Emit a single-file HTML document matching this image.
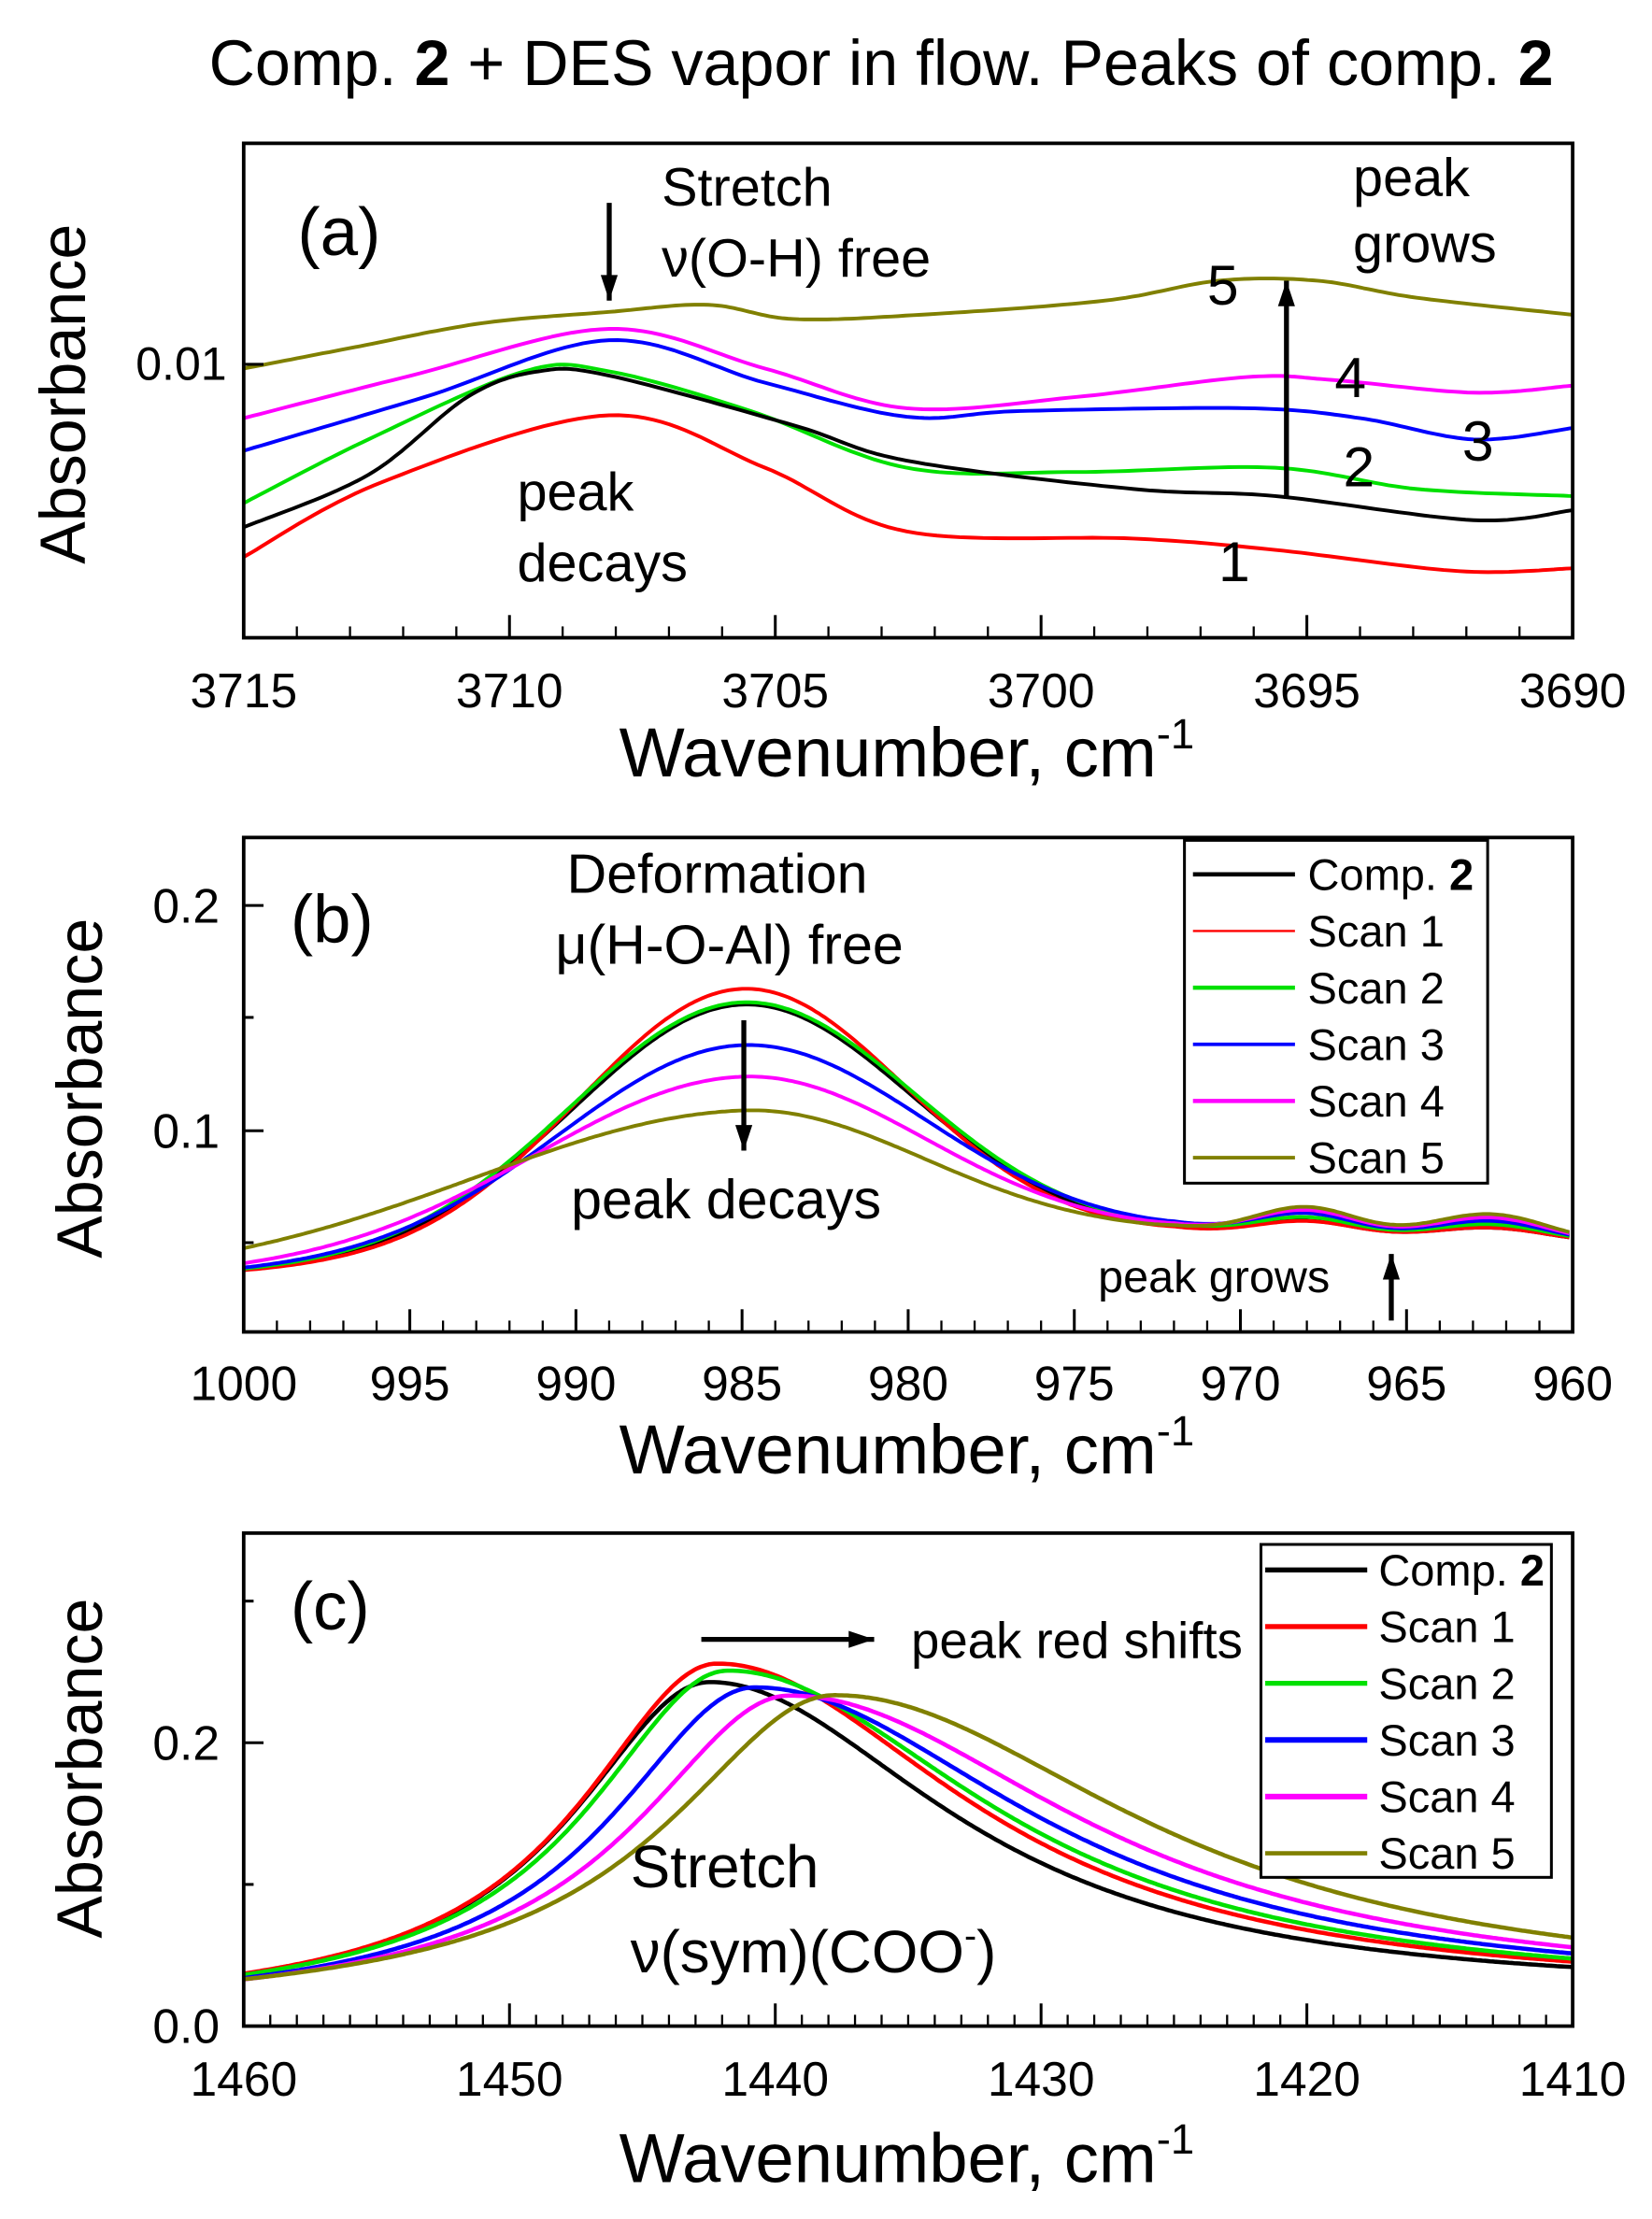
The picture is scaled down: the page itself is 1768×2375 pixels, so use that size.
<!DOCTYPE html>
<html><head><meta charset="utf-8"><style>
html,body{margin:0;padding:0;background:#fff;}
svg{display:block;}
text{font-family:"Liberation Sans",Arial,sans-serif;fill:#000;}
</style></head><body>
<svg id="s" width="1768" height="2375" viewBox="0 0 1166 1566" xmlns="http://www.w3.org/2000/svg">
<rect width="1166" height="1566" fill="#fff"/>
<text x="622" y="60" font-size="45" text-anchor="middle">Comp. <tspan font-weight="bold">2</tspan> + DES vapor in flow. Peaks of comp. <tspan font-weight="bold">2</tspan></text>
<g id="curves"></g>
<g id="axes" stroke="#000" fill="none"></g>
<!-- panel a texts -->
<text x="210" y="180" font-size="48">(a)</text>
<text x="467" y="145" font-size="38">Stretch</text>
<text x="467" y="195" font-size="38">ν(O-H) free</text>
<text x="365" y="360" font-size="38">peak</text>
<text x="365" y="410" font-size="38">decays</text>
<text x="955" y="138" font-size="38">peak</text>
<text x="955" y="185" font-size="38">grows</text>
<text x="852" y="215" font-size="40">5</text>
<text x="942" y="280" font-size="40">4</text>
<text x="1032" y="325" font-size="40">3</text>
<text x="948" y="343" font-size="40">2</text>
<text x="860" y="410" font-size="40">1</text>
<text x="160" y="268" font-size="33" text-anchor="end">0.01</text>
<text transform="translate(60,278) rotate(-90)" font-size="45" text-anchor="middle">Absorbance</text>
<text x="640" y="548" font-size="49" text-anchor="middle">Wavenumber, cm<tspan font-size="30" dy="-20">-1</tspan></text>
<!-- panel b texts -->
<text x="205" y="665" font-size="48">(b)</text>
<text x="400" y="630" font-size="39">Deformation</text>
<text x="392" y="680" font-size="39">μ(H-O-Al) free</text>
<text x="403" y="860" font-size="39">peak decays</text>
<text x="775" y="912" font-size="32">peak grows</text>
<text x="155" y="651" font-size="34" text-anchor="end">0.2</text>
<text x="155" y="810" font-size="34" text-anchor="end">0.1</text>
<text transform="translate(72,768) rotate(-90)" font-size="45" text-anchor="middle">Absorbance</text>
<text x="640" y="1040" font-size="49" text-anchor="middle">Wavenumber, cm<tspan font-size="30" dy="-20">-1</tspan></text>
<!-- panel c texts -->
<text x="205" y="1150" font-size="48">(c)</text>
<text x="643" y="1170" font-size="36">peak red shifts</text>
<text x="445" y="1332" font-size="42">Stretch</text>
<text x="445" y="1392" font-size="42">ν(sym)(COO<tspan font-size="26" dy="-17">-</tspan><tspan dy="17">)</tspan></text>
<text x="155" y="1242" font-size="34" text-anchor="end">0.2</text>
<text x="155" y="1442" font-size="34" text-anchor="end">0.0</text>
<text transform="translate(72,1248) rotate(-90)" font-size="45" text-anchor="middle">Absorbance</text>
<text x="640" y="1540" font-size="49" text-anchor="middle">Wavenumber, cm<tspan font-size="30" dy="-20">-1</tspan></text>
<g id="lab"></g>
</svg>
<script>
var NS="http://www.w3.org/2000/svg";
function el(g,t,a){var e=document.createElementNS(NS,t);for(var k in a)e.setAttribute(k,a[k]);document.getElementById(g).appendChild(e);return e;}
var cols={k:"#000",r:"#ff0000",g:"#00e000",b:"#0000ff",m:"#ff00ff",o:"#808000"};
function path(pts,c,w){var d="M"+pts.map(function(p){return p[0].toFixed(1)+","+p[1].toFixed(1)}).join("L");el("curves","path",{d:d,stroke:c,"stroke-width":w,fill:"none","stroke-linejoin":"round"});}
function spline(P){var out=[];for(var i=0;i<P.length-1;i++){var p0=P[Math.max(0,i-1)],p1=P[i],p2=P[i+1],p3=P[Math.min(P.length-1,i+2)];for(var t=0;t<1;t+=0.05){var t2=t*t,t3=t2*t;var f=function(a,b,c,d){return 0.5*(2*b+(-a+c)*t+(2*a-5*b+4*c-d)*t2+(-a+3*b-3*c+d)*t3)};out.push([f(p0[0],p1[0],p2[0],p3[0]),f(p0[1],p1[1],p2[1],p3[1])]);}}out.push(P[P.length-1]);return out;}
var A={
o:[[172,260],[250,245],[340,228],[430,220],[500,215],[560,225],[650,222],[780,212],[860,198],[930,198],[1000,210],[1110,222]],
m:[[172,295],[290,265],[430,232],[540,260],[640,288],[760,280],[880,266],[940,268],[1040,277],[1110,272]],
b:[[172,318],[300,280],[430,240],[540,270],[640,294],[720,290],[880,288],[960,295],[1040,310],[1110,302]],
g:[[172,355],[260,310],[370,262],[430,262],[530,290],[640,330],[760,333],[900,330],[1000,345],[1110,350]],
k:[[172,372],[260,335],[330,280],[380,262],[430,265],[560,300],[640,325],[800,345],[900,350],[1040,367],[1110,360]],
r:[[172,393],[270,340],[430,293],[540,330],[640,375],[800,380],[900,388],[1030,403],[1110,401]]};
["o","m","b","g","k","r"].forEach(function(k){path(spline(A[k]),cols[k],2.6);});
function yb(v){return 957-1590*v;}
function xb(w){return 172+(1000-w)*23.45;}
var B=[["k",0.110,5.1,0],["r",0.117,4.9,0],["g",0.111,5.2,1],["b",0.092,5.5,2],["m",0.078,6.2,3],["o",0.063,8,4]];
B.forEach(function(s){var pts=[];for(var w=1000;w>=960;w-=0.1){var base=0.037+(1000-w)*0.0006;if(w<972)base-=(972-w)*0.0009;var bump=(0.007+0.0015*s[3])*Math.exp(-Math.pow((w-968)/2.2,2))+(0.006+0.0015*s[3])*Math.exp(-Math.pow((w-962.5)/2.5,2));var sg=w<985?Math.min(s[2],5.5):s[2];var v=base+bump+s[1]*Math.exp(-Math.pow(w-985,2)/(2*sg*sg));pts.push([xb(w),Math.min(940,yb(v))]);}path(pts,cols[s[0]],2.6);});
function yc(v){return 1430-1000*v;}
function xc(w){return 172+(1460-w)*18.76;}
var C=[["k",0.230,1442.5,6.3,11],["r",0.243,1442.2,6.3,11.5],["g",0.238,1441.8,6.4,12],["b",0.226,1440.8,6.6,12.8],["m",0.220,1439.5,7,13.4],["o",0.220,1437.8,7.6,14]];
C.forEach(function(s){var pts=[];for(var w=1460;w>=1410;w-=0.1){var d=w-s[2];var g=d>0?s[3]:s[4];var v=0.01+(1460-w)*0.00016+s[1]/(1+Math.pow(d/g,2));pts.push([xc(w),yc(v)]);}path(pts,cols[s[0]],3);});
function box(x1,y1,x2,y2){el("axes","rect",{x:x1,y:y1,width:x2-x1,height:y2-y1,"stroke-width":2.5,fill:"none"});}
function lab(x,y,t,fs){var e=el("lab","text",{x:x,y:y,"font-size":fs,"text-anchor":"middle"});e.textContent=t;}
function xt(x1,x2,y2,n,majEvery,labels,ly){for(var i=0;i<=n;i++){var x=x1+(x2-x1)*i/n;var maj=i%majEvery==0;el("axes","line",{x1:x,x2:x,y1:y2,y2:y2-(maj?16:8),"stroke-width":maj?2:1.5});if(maj)lab(x,ly,labels[i/majEvery],34);}}
function yt(x1,ys,ysm){ys.forEach(function(y){el("axes","line",{x1:x1,x2:x1+14,y1:y,y2:y,"stroke-width":2});});(ysm||[]).forEach(function(y){el("axes","line",{x1:x1,x2:x1+7,y1:y,y2:y,"stroke-width":2});});}
box(172,101,1110,450);xt(172,1110,450,25,5,["3715","3710","3705","3700","3695","3690"],499);yt(172,[257]);
box(172,591,1110,940);xt(172,1110,940,40,5,["1000","995","990","985","980","975","970","965","960"],988);yt(172,[639,798],[718,877]);
box(172,1082,1110,1430);xt(172,1110,1430,50,10,["1460","1450","1440","1430","1420","1410"],1479);yt(172,[1230,1430],[1130,1330]);
function arrow(x1,y1,x2,y2){el("axes","line",{x1:x1,y1:y1,x2:x2,y2:y2,"stroke-width":3.5});var ang=Math.atan2(y2-y1,x2-x1),L=18,W=6;var p=[[x2,y2],[x2-L*Math.cos(ang)+W*Math.sin(ang),y2-L*Math.sin(ang)-W*Math.cos(ang)],[x2-L*Math.cos(ang)-W*Math.sin(ang),y2-L*Math.sin(ang)+W*Math.cos(ang)]];el("axes","polygon",{points:p.map(function(q){return q.join(",")}).join(" "),fill:"#000",stroke:"none"});}
arrow(430,143,430,212);arrow(908,352,908,198);arrow(525,720,525,812);arrow(982,932,982,885);arrow(495,1157,617,1157);
function legend(x1,y1,x2,y2,lx1,lx2,tx,ys,fs,w){el("axes","rect",{x:x1,y:y1,width:x2-x1,height:y2-y1,"stroke-width":2,fill:"#fff"});var ks=["k","r","g","b","m","o"],nm=["Comp. ","Scan 1","Scan 2","Scan 3","Scan 4","Scan 5"];ks.forEach(function(k,i){el("axes","line",{x1:lx1,x2:lx2,y1:ys[i],y2:ys[i],stroke:cols[k],"stroke-width":w[i]});var t=el("lab","text",{x:tx,y:ys[i]+11,"font-size":fs});t.textContent=nm[i];if(i==0){var b=document.createElementNS(NS,"tspan");b.setAttribute("font-weight","bold");b.textContent="2";t.appendChild(b);}});}
legend(836,593,1050,835,842,914,923,[617,657,697,737,777,817],31,[3,1.5,3,2.5,3,2.5]);
legend(890,1090,1095,1325,893,965,973,[1108,1148,1188,1228,1268,1308],31,[3.5,3.5,3.5,4,4,3]);
</script>
</body></html>
